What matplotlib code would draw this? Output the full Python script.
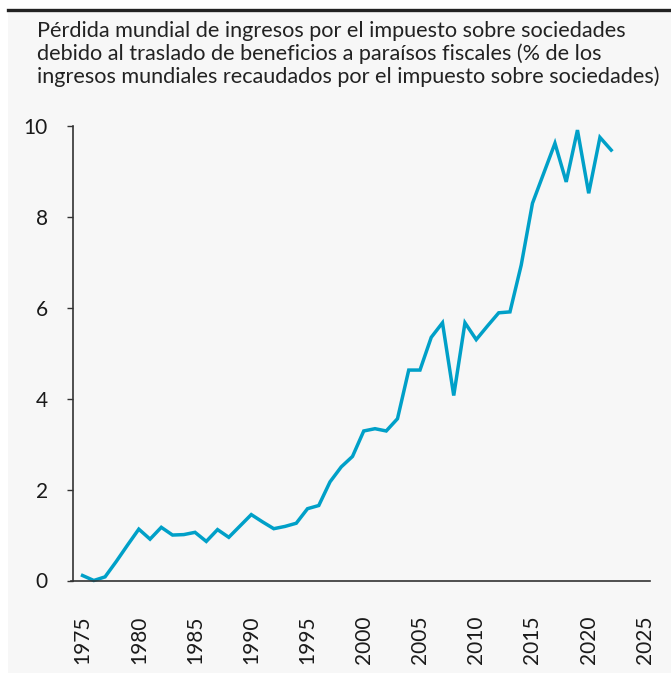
import matplotlib
matplotlib.use("Agg")
import matplotlib.pyplot as plt
from matplotlib.patches import Rectangle
from matplotlib.lines import Line2D

plt.rcParams['font.family'] = ['Lato', 'DejaVu Sans']

years = list(range(1975, 2023))
loss_pct = [
    0.11, 0.00, 0.08, 0.42, 0.78, 1.13, 0.91, 1.17, 1.00, 1.01,
    1.06, 0.86, 1.12, 0.95, 1.20, 1.45, 1.29, 1.14, 1.19, 1.26,
    1.58, 1.65, 2.17, 2.50, 2.73, 3.29, 3.34, 3.29, 3.56, 4.63,
    4.63, 5.35, 5.67, 4.07, 5.67, 5.30, 5.60, 5.89, 5.91, 6.94,
    8.30, 8.96, 9.62, 8.77, 9.91, 8.52, 9.75, 9.47,
]
x_ticks = list(range(1975, 2030, 5))
y_ticks = [0, 2, 4, 6, 8, 10]
title = ("Pérdida mundial de ingresos por el impuesto sobre sociedades\n"
         "debido al traslado de beneficios a paraísos fiscales (% de los\n"
         "ingresos mundiales recaudados por el impuesto sobre sociedades)")

W, H = 671, 673
fig = plt.figure(figsize=(W / 100, H / 100), dpi=100, facecolor='white')

# grey panel and dark rule on top
fig.patches.append(Rectangle((8 / W, 0), 1, 1 - 12 / H, transform=fig.transFigure,
                             facecolor='#f7f7f7', edgecolor='none', zorder=-5))
fig.lines.append(Line2D([8 / W, 1], [1 - 10 / H, 1 - 10 / H], transform=fig.transFigure,
                        color='#222222', linewidth=2.4, zorder=-4))

fig.text(37 / W, 1 - 21 / H, title, ha='left', va='top', fontsize=15.6,
         color='#222222', linespacing=1.16)

ax = fig.add_axes([73 / W, 1 - 580.5 / H, (650 - 73) / W, (580.5 - 126) / H])
ax.set_zorder(2)
ax.set_facecolor('none')
ax.plot(years, loss_pct, color='#00a0c8', linewidth=2.5, clip_on=False,
        solid_joinstyle='miter')

ax.set_xlim(1974.15, 2025.45)
ax.set_ylim(0, 10)
ax.set_xticks(x_ticks)
ax.set_yticks(y_ticks)
ax.set_xticklabels([str(x) for x in x_ticks], rotation=90)
ax.tick_params(axis='x', length=0, pad=25, labelsize=15, labelcolor='#1a1a1a')
ax.tick_params(axis='y', length=4, width=1, color='#333333', pad=14,
               labelsize=15, labelcolor='#1a1a1a')

for side in ['top', 'right']:
    ax.spines[side].set_visible(False)
for side in ['left', 'bottom']:
    ax.spines[side].set_color('#333333')
    ax.spines[side].set_linewidth(1.2)
ax.spines['bottom'].set_bounds(1974.0, 2025.45)

fig.savefig('out.png', dpi=100, facecolor=fig.get_facecolor())
